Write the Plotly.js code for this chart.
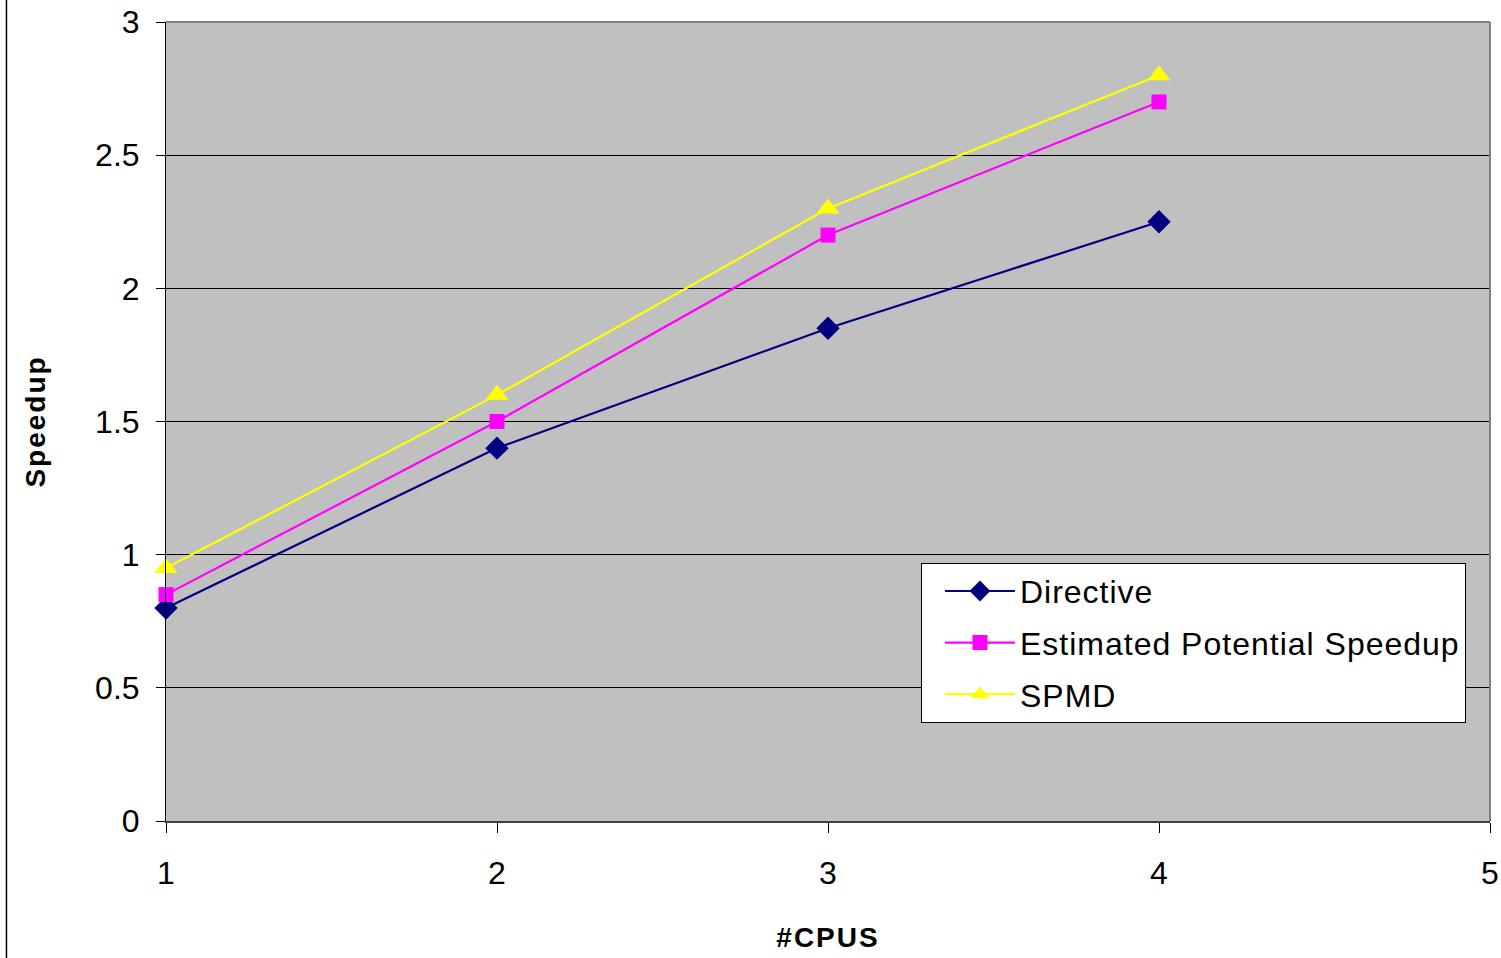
<!DOCTYPE html>
<html>
<head>
<meta charset="utf-8">
<script src="https://cdn.plot.ly/plotly-3.0.1.min.js"></script>
<style>
  html, body { margin: 0; padding: 0; background: #ffffff; }
  #chart { width: 1501px; height: 958px; }
  .legendtext { letter-spacing: 1px; }
  .g-xtitle text, .g-ytitle text { letter-spacing: 2px; }
</style>
</head>
<body>
<div id="chart"></div>
<script>
// Speedup measured against number of CPUs
const cpus = [1, 2, 3, 4];
const directive = [0.80, 1.40, 1.85, 2.25];
const estimatedPotential = [0.85, 1.50, 2.20, 2.70];
const spmd = [0.95, 1.60, 2.30, 2.80];

const seriesNames = ['Directive', 'Estimated Potential Speedup', 'SPMD'];
const xTicks = [1, 2, 3, 4, 5];
const yTicks = [0, 0.5, 1, 1.5, 2, 2.5, 3];

const FONT = '"Liberation Sans Narrow", "Arial Narrow", "Liberation Sans", Arial, sans-serif';

const traces = [
  {
    x: cpus, y: directive, name: seriesNames[0], legendgroup: 'g1',
    type: 'scatter', mode: 'lines+markers', cliponaxis: false,
    line: {color: '#000080', width: 2.2},
    marker: {symbol: 'diamond', size: 18, color: '#000080'}
  },
  {
    x: cpus, y: estimatedPotential, name: seriesNames[1], legendgroup: 'g2',
    type: 'scatter', mode: 'lines+markers', cliponaxis: false,
    line: {color: '#FF00FF', width: 2.2},
    marker: {symbol: 'square', size: 15, color: '#FF00FF'}
  },
  {
    x: cpus, y: spmd, name: seriesNames[2], legendgroup: 'g3',
    type: 'scatter', mode: 'lines+markers', cliponaxis: false,
    line: {color: '#FFFF00', width: 2.2},
    marker: {symbol: 'triangle-up', size: 20, color: '#FFFF00'}
  }
];

const layout = {
  width: 1501,
  height: 958,
  margin: {l: 166, r: 11, t: 22, b: 136.5},
  paper_bgcolor: '#ffffff',
  plot_bgcolor: '#C0C0C0',
  font: {family: FONT, color: '#000000', size: 32},
  showlegend: true,
  legend: {
    x: 0.5702, y: 0.3233, xanchor: 'left', yanchor: 'top',
    bgcolor: '#ffffff', bordercolor: '#000000', borderwidth: 1,
    font: {family: FONT, size: 32, color: '#000000'},
    itemwidth: 70,
    indentation: 18,
    traceorder: 'grouped',
    tracegroupgap: 7
  },
  xaxis: {
    range: [1, 5],
    tickvals: xTicks,
    ticktext: xTicks.map(String),
    ticks: 'outside', ticklen: 10, tickcolor: '#000000', tickwidth: 1,
    ticklabelstandoff: 13,
    showgrid: false, zeroline: false,
    showline: true, linecolor: '#404040', linewidth: 2,
    tickfont: {family: FONT, size: 32},
    title: {text: '#CPUS', font: {family: FONT, size: 28, weight: 'bold'}, standoff: 37}
  },
  yaxis: {
    range: [0, 3],
    tickvals: yTicks,
    ticktext: yTicks.map(String),
    ticks: 'outside', ticklen: 9, tickcolor: '#000000', tickwidth: 1,
    ticklabelstandoff: 10,
    showgrid: true, gridcolor: '#000000', gridwidth: 1,
    zeroline: false,
    showline: true, linecolor: '#000000', linewidth: 1,
    tickfont: {family: FONT, size: 32},
    title: {text: 'Speedup', font: {family: FONT, size: 28, weight: 'bold'}, standoff: 41}
  },
  shapes: [
    // top and right edges of the plotting area
    {type: 'line', xref: 'paper', yref: 'paper', x0: 0, x1: 1, y0: 1, y1: 1,
     line: {color: '#808080', width: 2}},
    {type: 'line', xref: 'paper', yref: 'paper', x0: 1, x1: 1, y0: 0, y1: 1,
     line: {color: '#808080', width: 2}},
    // outer frame line at the far left of the figure
    {type: 'line', xref: 'paper', yref: 'paper', x0: -0.1205, x1: -0.1205, y0: -0.2, y1: 1.03,
     line: {color: '#000000', width: 1.5}}
  ]
};

Plotly.newPlot('chart', traces, layout, {displayModeBar: false, staticPlot: true});
</script>
</body>
</html>
